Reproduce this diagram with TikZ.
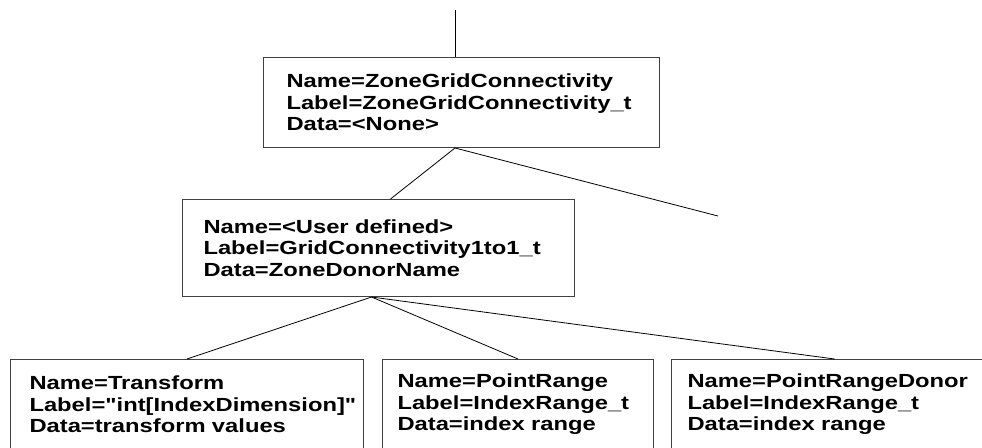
\documentclass[tikz,border=0pt]{standalone}
\usepackage{fontspec}
\setmainfont{Liberation Sans}[FakeStretch=1.25, Ligatures=TeXOff]

\begin{document}
\begin{tikzpicture}[x=1pt,y=-1pt,
  box/.style={draw=black!75, line width=1pt, anchor=north west, align=left,
    inner xsep=#1, inner ysep=0pt, font=\fontsize{19}{21.5}\selectfont\bfseries},
  edge/.style={line width=0.8pt}]
\clip (0,0) rectangle (982,447);

\coordinate (top) at (455,10);
\coordinate (more) at (718,216);

\node[box=23pt, text width=350pt, minimum height=90pt] (zgc) at (263,57)
  {Name=ZoneGridConnectivity\\Label=ZoneGridConnectivity\_t\\Data=<None>};
\node[box=21pt, text width=350pt, minimum height=97pt] (gc) at (182,199)
  {Name=<User defined>\\Label=GridConnectivity1to1\_t\\Data=ZoneDonorName};
\node[box=19pt, text width=315pt, minimum height=90pt] (tr) at (10,359)
  {Name=Transform\\Label="int[IndexDimension]"\\Data=transform values};
\node[box=15pt, text width=241pt, minimum height=90pt] (pr) at (382,359)
  {Name=PointRange\\Label=IndexRange\_t\\Data=index range};
\node[box=16pt, text width=294pt, minimum height=90pt] (prd) at (671,359)
  {Name=PointRangeDonor\\Label=IndexRange\_t\\Data=index range};

\draw[edge] (top) -- (top |- zgc.north);
\draw[edge] (zgc.south -| top) -- ([xshift=12pt]gc.north);
\draw[edge] (zgc.south -| top) -- (more);
\draw[edge] ([xshift=-7pt]gc.south) -- (tr.north);
\draw[edge] ([xshift=-7pt]gc.south) -- (pr.north);
\draw[edge] ([xshift=-7pt]gc.south) -- (prd.north);
\end{tikzpicture}
\end{document}
